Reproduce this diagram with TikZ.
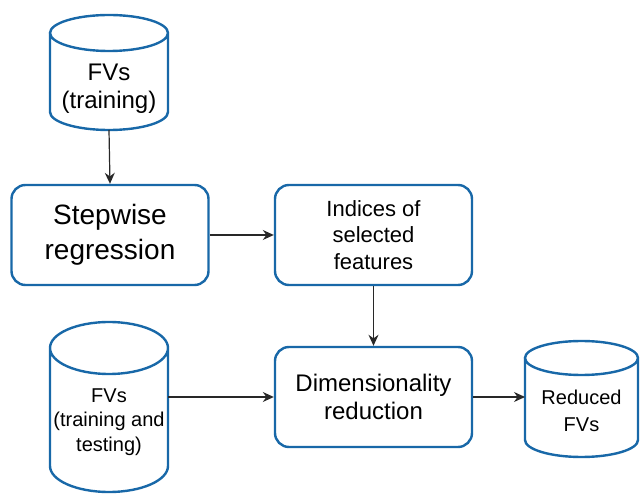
\documentclass[tikz,border=0pt]{standalone}
\usepackage{fontspec}
\setmainfont{Liberation Sans}
\usetikzlibrary{arrows.meta}

\definecolor{boxblue}{RGB}{24,104,168}
\definecolor{flowgray}{RGB}{40,40,40}

\tikzset{
  procbox/.style={draw=boxblue, line width=2.4pt, rounded corners=14pt,
    minimum width=197pt, minimum height=100pt, inner sep=0pt, align=center},
  dbnode/.style={inner sep=0pt, outer sep=0pt},
  dbtext/.style={inner sep=0pt, align=center},
  dbline/.style={draw=boxblue, line width=2.4pt},
  flow/.style={draw=flowgray, line width=1.2pt, -{Stealth[length=11pt,width=10pt]}}
}

% outline of a database cylinder round a node: node, x radius, y radius
\newcommand{\dbcyl}[3]{%
  \draw[dbline] ([yshift=-#3]#1.north west) -- ([yshift=#3]#1.south west)
    arc[start angle=180, end angle=360, x radius=#2, y radius=#3]
    -- ([yshift=-#3]#1.north east)
    arc[start angle=0, end angle=360, x radius=#2, y radius=#3];}

\begin{document}
\begin{tikzpicture}[x=1pt, y=1pt]
  \useasboundingbox (0,0) rectangle (640,493);
  % cylinders
  \node[dbnode, minimum width=118pt, minimum height=115pt] (fvtrain) at (109,420.5) {};
  \node[dbnode, minimum width=118pt, minimum height=170pt] (fvall) at (109,86) {};
  \node[dbnode, minimum width=113pt, minimum height=116pt] (reduced) at (581.5,94) {};
  \dbcyl{fvtrain}{59pt}{18pt}
  \dbcyl{fvall}{59pt}{26pt}
  \dbcyl{reduced}{56.5pt}{17pt}
  \node[dbtext, font=\fontsize{24}{28}\selectfont] (fvtraintxt) at (109,404.5) {FVs\\(training)};
  \node[dbtext, font=\fontsize{20}{24.5}\selectfont] (fvalltxt) at (109,71) {FVs\\(training and\\testing)};
  \node[dbtext, font=\fontsize{20}{27}\selectfont] (reducedtxt) at (581.5,82.5) {Reduced\\FVs};
  % process boxes
  \node[procbox, font=\fontsize{28}{35}\selectfont] (stepwise) at (110,258) {Stepwise\\regression};
  \node[procbox, font=\fontsize{22}{26.5}\selectfont] (indices) at (373.5,258) {Indices of\\selected\\features};
  \node[procbox, font=\fontsize{24}{28}\selectfont] (dimred) at (373.5,96) {Dimensionality\\reduction};
  % connectors
  \draw[flow] (fvtrain.south) -- (stepwise.north);
  \draw[flow] (stepwise.east) -- (indices.west);
  \draw[flow] (indices.south) -- (dimred.north);
  \draw[flow] (fvall.east |- dimred.west) -- (dimred.west);
  \draw[flow] (dimred.east) -- (dimred.east -| reduced.west);
\end{tikzpicture}
\end{document}
